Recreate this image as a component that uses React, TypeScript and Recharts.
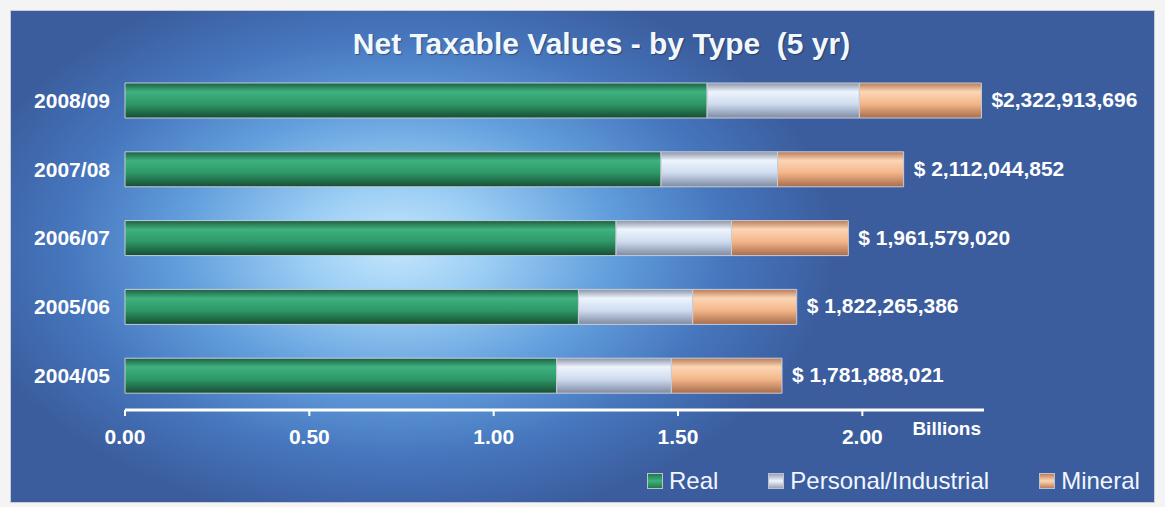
import React from 'react';
import { BarChart, Bar, XAxis, YAxis, LabelList } from 'recharts';

// values in billions
const years = ['2004/05', '2005/06', '2006/07', '2007/08', '2008/09'];
const realValues = [1.171, 1.230, 1.332, 1.454, 1.579];
const personalValues = [0.311, 0.310, 0.313, 0.316, 0.413];
const mineralValues = [0.300, 0.282, 0.317, 0.342, 0.331];
const totalLabels = ['$ 1,781,888,021', '$ 1,822,265,386', '$ 1,961,579,020', '$ 2,112,044,852', '$2,322,913,696'];
const xTicks = [0, 0.5, 1, 1.5, 2];

const SERIES = [
  { key: 'real', name: 'Real', fill: 'url(#gReal)', swatch: 'linear-gradient(#1f7a4c, #3fb07c 50%, #1f7a4c)' },
  { key: 'personal', name: 'Personal/Industrial', fill: 'url(#gPers)', swatch: 'linear-gradient(#9aa4b8, #eef4fc 50%, #9aa4b8)' },
  { key: 'mineral', name: 'Mineral', fill: 'url(#gMin)', swatch: 'linear-gradient(#c27f5c, #fcd6b4 50%, #c27f5c)' }
];

const data = years.map((y, i) => ({
  year: y,
  real: realValues[i],
  personal: personalValues[i],
  mineral: mineralValues[i],
  total: totalLabels[i]
}));

const FONT = '"Liberation Sans", Arial, sans-serif';

const renderTotal = (props: any) => {
  const { x, y, width, height, value } = props;
  return (
    <text
      x={x + width + 10}
      y={y + height / 2 - 1}
      fill="#ffffff"
      fontSize={21}
      fontWeight="bold"
      fontFamily={FONT}
      dominantBaseline="central"
    >
      {value}
    </text>
  );
};

const renderBillions = (props: any) => {
  const vb = props.viewBox;
  return (
    <text x={vb.x + vb.width - 3} y={vb.y + 25} textAnchor="end" fill="#ffffff" fontSize={19} fontWeight="bold" fontFamily={FONT}>
      Billions
    </text>
  );
};

export default function App() {
  return (
    <div style={{ position: 'absolute', left: 0, top: 0, width: 1165, height: 507, background: '#f4f4f4' }}>
      <style>{'body{margin:0}'}</style>
      <div
        style={{
          position: 'absolute',
          left: 10,
          top: 10,
          width: 1145,
          height: 493,
          border: '1px solid #c9ccd4',
          boxSizing: 'border-box',
          background:
            'radial-gradient(ellipse 440px 280px at 385px 235px, #c4e6fc 0%, #9acdf4 22%, #619ddc 50%, #4676bd 75%, #3b5d9e 100%)'
        }}
      />
      <div
        style={{
          position: 'absolute',
          left: 19,
          top: 27,
          width: 1165,
          textAlign: 'center',
          fontFamily: FONT,
          fontWeight: 'bold',
          fontSize: 30,
          color: '#f2f8ff',
          textShadow: '1px 1px 1px rgba(0,0,0,0.35)'
        }}
      >
        Net Taxable Values - by Type&nbsp; (5 yr)
      </div>
      <div style={{ position: 'absolute', left: 0, top: 0 }}>
        <BarChart
          width={1165}
          height={507}
          data={data}
          layout="vertical"
          margin={{ top: 66, right: 181, bottom: 57, left: 0 }}
          barSize={35}
        >
          <defs>
            <linearGradient id="gReal" x1="0" y1="0" x2="0" y2="1">
              <stop offset="0%" stopColor="#1b5e40" />
              <stop offset="25%" stopColor="#3fb17f" />
              <stop offset="60%" stopColor="#2e9868" />
              <stop offset="100%" stopColor="#174d33" />
            </linearGradient>
            <linearGradient id="gPers" x1="0" y1="0" x2="0" y2="1">
              <stop offset="0%" stopColor="#8a93a8" />
              <stop offset="25%" stopColor="#eef4fc" />
              <stop offset="60%" stopColor="#cfdcf0" />
              <stop offset="100%" stopColor="#7f8aa2" />
            </linearGradient>
            <linearGradient id="gMin" x1="0" y1="0" x2="0" y2="1">
              <stop offset="0%" stopColor="#b97a58" />
              <stop offset="25%" stopColor="#fcd6b4" />
              <stop offset="60%" stopColor="#f3b68a" />
              <stop offset="100%" stopColor="#a86c4c" />
            </linearGradient>
          </defs>
          <XAxis
            type="number"
            domain={[0, 2.33]}
            ticks={xTicks}
            tickFormatter={(v: number) => v.toFixed(2)}
            axisLine={{ stroke: '#ffffff', strokeWidth: 3 }}
            tickLine={{ stroke: '#ffffff', strokeWidth: 2 }}
            tickSize={6}
            tickMargin={13}
            tick={{ fill: '#ffffff', fontSize: 21, fontWeight: 'bold', fontFamily: FONT }}
            height={40}
            label={renderBillions}
          />
          <YAxis
            type="category"
            dataKey="year"
            reversed
            width={125}
            axisLine={false}
            tickLine={false}
            tickSize={0}
            tickMargin={15}
            tick={{ fill: '#ffffff', fontSize: 21, fontWeight: 'bold', fontFamily: FONT }}
          />
          {SERIES.map((s) => (
            <Bar
              key={s.key}
              dataKey={s.key}
              name={s.name}
              stackId="a"
              fill={s.fill}
              stroke="#c8ccd6"
              strokeWidth={1}
              isAnimationActive={false}
            >
              {s.key === 'mineral' && <LabelList dataKey="total" content={renderTotal} />}
            </Bar>
          ))}
        </BarChart>
      </div>
      <div
        style={{
          position: 'absolute',
          left: 647,
          top: 467,
          display: 'flex',
          alignItems: 'center',
          fontFamily: FONT,
          fontSize: 24,
          color: '#f2f6ff'
        }}
      >
        {SERIES.map((s, i) => (
          <div key={s.key} style={{ display: 'flex', alignItems: 'center', marginLeft: i === 0 ? 0 : 50 }}>
            <div style={{ width: 14, height: 14, background: s.swatch, border: '1px solid #b8c2d2', marginRight: 6 }} />
            <span>{s.name}</span>
          </div>
        ))}
      </div>
    </div>
  );
}
